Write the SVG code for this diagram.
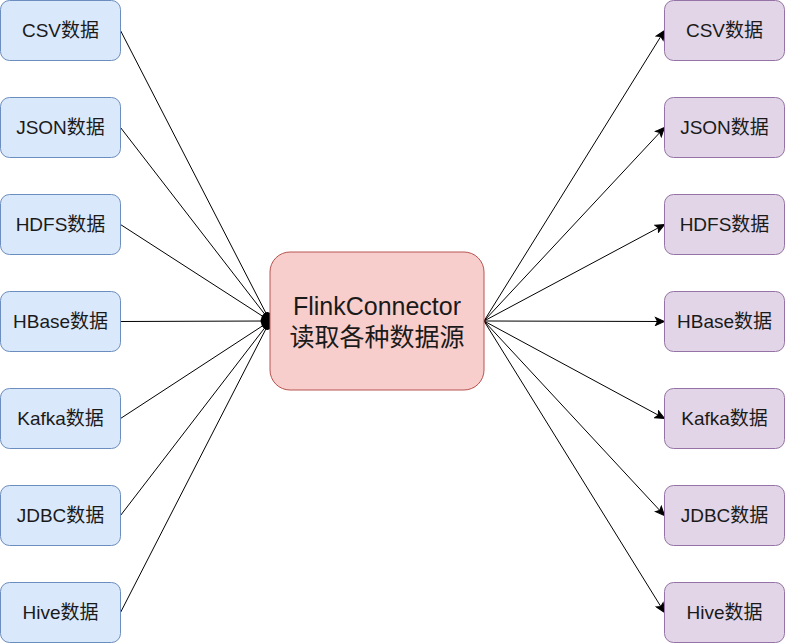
<svg xmlns="http://www.w3.org/2000/svg" width="785" height="643" viewBox="0 0 785 643">
<style>
.l rect{fill:#dae8fc;stroke:#6c8ebf;stroke-width:1}
.r rect{fill:#e1d5e7;stroke:#9673a6;stroke-width:1}
.c rect{fill:#f8cecc;stroke:#b85450;stroke-width:1}
text{font-family:"Liberation Sans","Noto Sans CJK SC",sans-serif;font-size:19px;fill:#1a1a1a;text-anchor:middle}
.big{font-size:25px}
.e line{stroke:#000;stroke-width:1;fill:none}
</style>
<defs>
<marker id="oval" markerUnits="userSpaceOnUse" viewBox="-12 -7 14 14" refX="0" refY="0" markerWidth="14" markerHeight="14" orient="auto">
<ellipse cx="-4.5" cy="0" rx="5" ry="4.5" fill="#000"/>
</marker>
<marker id="arr" markerUnits="userSpaceOnUse" viewBox="-10 -5 10 10" refX="0" refY="0" markerWidth="10" markerHeight="10" orient="auto">
<path d="M-9,-4 L0,0 L-9,4 L-7,0 Z" fill="#000" stroke="#000" stroke-width="1"/>
</marker>
</defs>
<g class="e" id="connectors">
<line x1="120.5" y1="30.5" x2="270" y2="321" marker-end="url(#oval)"/>
<line x1="120.5" y1="127.5" x2="270" y2="321" marker-end="url(#oval)"/>
<line x1="120.5" y1="224.5" x2="270" y2="321" marker-end="url(#oval)"/>
<line x1="120.5" y1="321.5" x2="270" y2="321" marker-end="url(#oval)"/>
<line x1="120.5" y1="418.5" x2="270" y2="321" marker-end="url(#oval)"/>
<line x1="120.5" y1="515.5" x2="270" y2="321" marker-end="url(#oval)"/>
<line x1="120.5" y1="612.5" x2="270" y2="321" marker-end="url(#oval)"/>
<line x1="484" y1="321" x2="664.5" y2="30.5" marker-end="url(#arr)"/>
<line x1="484" y1="321" x2="664.5" y2="127.5" marker-end="url(#arr)"/>
<line x1="484" y1="321" x2="664.5" y2="224.5" marker-end="url(#arr)"/>
<line x1="484" y1="321" x2="664.5" y2="321.5" marker-end="url(#arr)"/>
<line x1="484" y1="321" x2="664.5" y2="418.5" marker-end="url(#arr)"/>
<line x1="484" y1="321" x2="664.5" y2="515.5" marker-end="url(#arr)"/>
<line x1="484" y1="321" x2="664.5" y2="612.5" marker-end="url(#arr)"/>
</g>
<g id="center" class="c"><rect x="270" y="252" width="214" height="138" rx="20"/><text class="big" x="377" y="315">FlinkConnector</text><text class="big" x="377" y="346">读取各种数据源</text></g>
<g id="l1" class="l"><rect x="0.5" y="0.5" width="120" height="60" rx="9"/><text x="60.5" y="37">CSV数据</text></g>
<g id="l2" class="l"><rect x="0.5" y="97.5" width="120" height="60" rx="9"/><text x="60.5" y="134">JSON数据</text></g>
<g id="l3" class="l"><rect x="0.5" y="194.5" width="120" height="60" rx="9"/><text x="60.5" y="231">HDFS数据</text></g>
<g id="l4" class="l"><rect x="0.5" y="291.5" width="120" height="60" rx="9"/><text x="60.5" y="328">HBase数据</text></g>
<g id="l5" class="l"><rect x="0.5" y="388.5" width="120" height="60" rx="9"/><text x="60.5" y="425">Kafka数据</text></g>
<g id="l6" class="l"><rect x="0.5" y="485.5" width="120" height="60" rx="9"/><text x="60.5" y="522">JDBC数据</text></g>
<g id="l7" class="l"><rect x="0.5" y="582.5" width="120" height="60" rx="9"/><text x="60.5" y="619">Hive数据</text></g>
<g id="r1" class="r"><rect x="664.5" y="0.5" width="120" height="60" rx="9"/><text x="724.5" y="37">CSV数据</text></g>
<g id="r2" class="r"><rect x="664.5" y="97.5" width="120" height="60" rx="9"/><text x="724.5" y="134">JSON数据</text></g>
<g id="r3" class="r"><rect x="664.5" y="194.5" width="120" height="60" rx="9"/><text x="724.5" y="231">HDFS数据</text></g>
<g id="r4" class="r"><rect x="664.5" y="291.5" width="120" height="60" rx="9"/><text x="724.5" y="328">HBase数据</text></g>
<g id="r5" class="r"><rect x="664.5" y="388.5" width="120" height="60" rx="9"/><text x="724.5" y="425">Kafka数据</text></g>
<g id="r6" class="r"><rect x="664.5" y="485.5" width="120" height="60" rx="9"/><text x="724.5" y="522">JDBC数据</text></g>
<g id="r7" class="r"><rect x="664.5" y="582.5" width="120" height="60" rx="9"/><text x="724.5" y="619">Hive数据</text></g>
</svg>
